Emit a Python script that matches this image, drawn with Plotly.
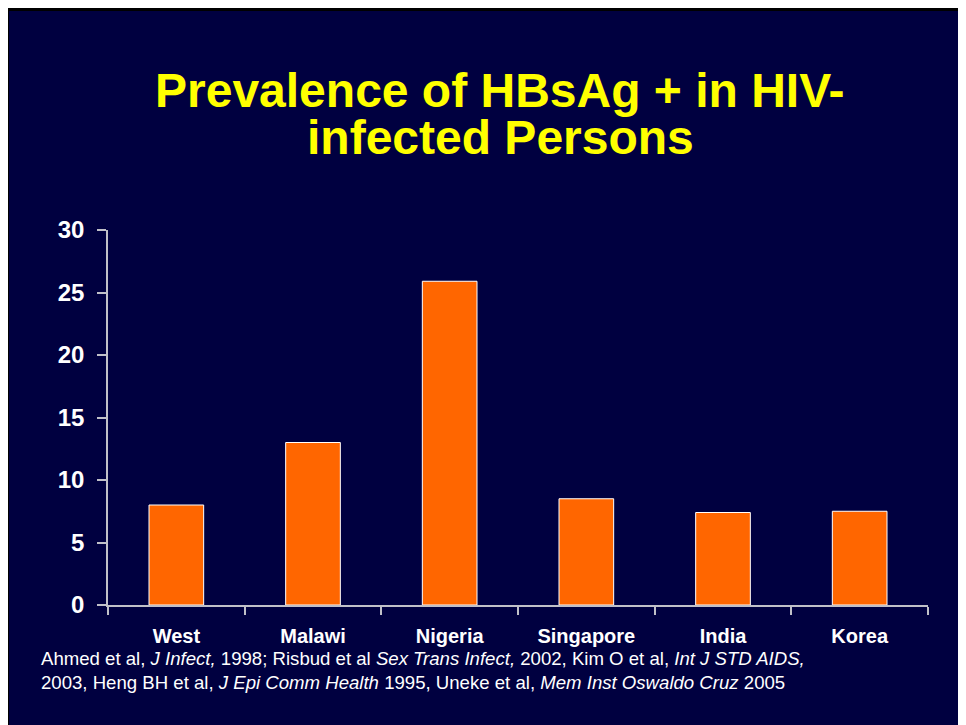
import plotly.graph_objects as go

categories = ["West", "Malawi", "Nigeria", "Singapore", "India", "Korea"]
prevalence = [8.0, 13.0, 25.9, 8.5, 7.4, 7.5]
y_ticks = [0, 5, 10, 15, 20, 25, 30]

W, H = 966, 725
L, R, T, B = 100, 46, 222, 128
PW, PH = W - L - R, H - T - B

def px(x):
    return (x - L) / PW

def py(y):
    return (H - B - y) / PH

NAVY = "#000040"
FONT = "Arial, Liberation Sans, sans-serif"
fig = go.Figure()
fig.add_trace(go.Bar(
    x=categories, y=prevalence, width=0.4,
    marker=dict(color="#FF6600", line=dict(color="#FFFFFF", width=1)),
))

shapes = [
    dict(type="rect", xref="paper", yref="paper", x0=px(0), x1=px(W), y0=py(0), y1=py(3),
         fillcolor="black", line=dict(width=0), layer="below"),
    dict(type="rect", xref="paper", yref="paper", x0=px(0), x1=px(1), y0=py(0), y1=py(H),
         fillcolor="black", line=dict(width=0), layer="below"),
]

annotations = [
    dict(text="<b>Prevalence of HBsAg + in HIV-</b>", xref="paper", yref="paper",
         x=px(492), y=py(82), xanchor="center", yanchor="middle", showarrow=False,
         font=dict(family=FONT, size=48, color="#FFFF00")),
    dict(text="<b>infected Persons</b>", xref="paper", yref="paper",
         x=px(492), y=py(129), xanchor="center", yanchor="middle", showarrow=False,
         font=dict(family=FONT, size=48, color="#FFFF00")),
    dict(text=("Ahmed et al, <i>J Infect,</i> 1998; Risbud et al <i>Sex Trans Infect,</i> 2002, "
               "Kim O et al, <i>Int J STD AIDS,</i><br>2003, Heng BH et al, <i>J Epi Comm Health</i> "
               "1995, Uneke et al, <i>Mem Inst Oswaldo Cruz</i> 2005"),
         xref="paper", yref="paper", x=px(31), y=py(662), xanchor="left", yanchor="middle",
         align="left", showarrow=False,
         font=dict(family=FONT, size=18.6, color="#FFFFFF")),
]

fig.update_layout(
    width=W, height=H,
    margin=dict(l=L, r=R, t=T, b=B, pad=0),
    paper_bgcolor=NAVY, plot_bgcolor="rgba(0,0,0,0)",
    showlegend=False, bargap=0.6,
    shapes=shapes, annotations=annotations,
    font=dict(family=FONT, color="white"),
)
fig.update_xaxes(
    showline=True, linecolor="#C0C0C8", linewidth=1.5,
    ticks="outside", tickson="boundaries", ticklen=8, tickcolor="#C0C0C8", tickwidth=1.5,
    tickfont=dict(size=20, color="white", family=FONT),
    ticklabelstandoff=12, showgrid=False, zeroline=False,
    tickvals=categories, ticktext=[f"<b>{c}</b>" for c in categories],
)
fig.update_yaxes(
    range=[0, 30], tickvals=y_ticks, ticktext=[f"<b>{v}</b>" for v in y_ticks],
    showline=True, linecolor="#C0C0C8", linewidth=1.5,
    ticks="outside", ticklen=9, tickcolor="#C0C0C8", tickwidth=1.5,
    tickfont=dict(size=24, color="white", family=FONT),
    ticklabelstandoff=8, showgrid=False, zeroline=False,
)

fig.write_html("out.html")
